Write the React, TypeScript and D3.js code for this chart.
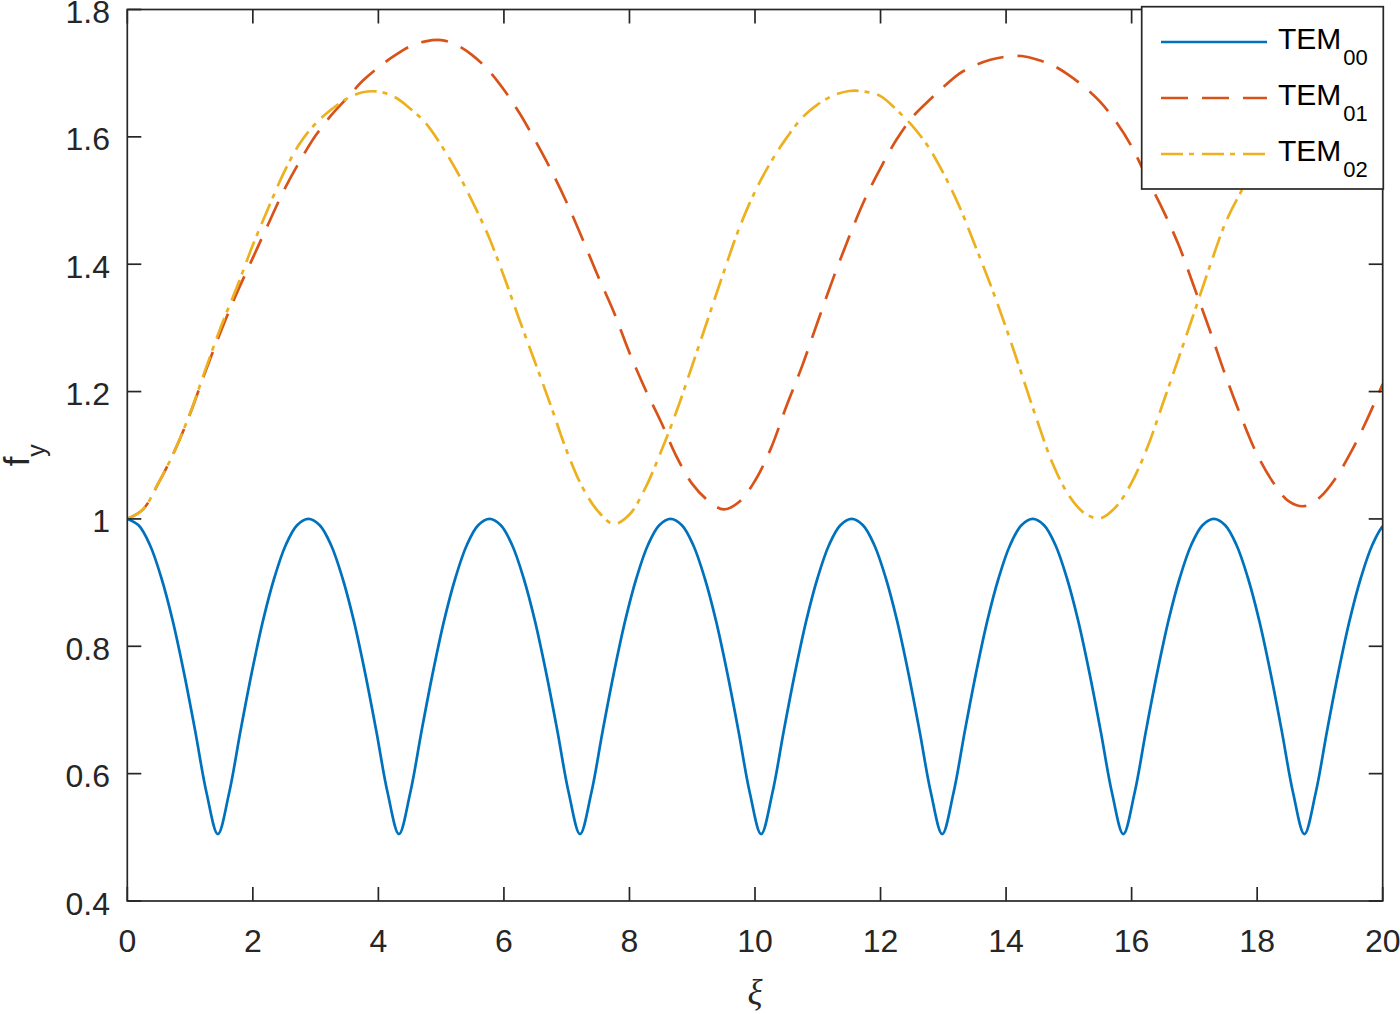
import React from 'react';
import * as d3 from 'd3';

// ---- data ----
// TEM00 sampled every 1/16 of its period (period ≈ 2.885)
const tem00Period = 2.885;
const tem00 = [
  1.000, 0.990, 0.959, 0.908, 0.841, 0.759, 0.667, 0.570, 0.505, 0.570, 0.667, 0.759, 0.841, 0.908, 0.959, 0.990,
  1.000, 0.990, 0.959, 0.908, 0.841, 0.759, 0.667, 0.570, 0.505, 0.570, 0.667, 0.759, 0.841, 0.908, 0.959, 0.990,
  1.000, 0.990, 0.959, 0.908, 0.841, 0.759, 0.667, 0.570, 0.505, 0.570, 0.667, 0.759, 0.841, 0.908, 0.959, 0.990,
  1.000, 0.990, 0.959, 0.908, 0.841, 0.759, 0.667, 0.570, 0.505, 0.570, 0.667, 0.759, 0.841, 0.908, 0.959, 0.990,
  1.000, 0.990, 0.959, 0.908, 0.841, 0.759, 0.667, 0.570, 0.505, 0.570, 0.667, 0.759, 0.841, 0.908, 0.959, 0.990,
  1.000, 0.990, 0.959, 0.908, 0.841, 0.759, 0.667, 0.570, 0.505, 0.570, 0.667, 0.759, 0.841, 0.908, 0.959, 0.990,
  1.000, 0.990, 0.959, 0.908, 0.841, 0.759, 0.667, 0.570, 0.505, 0.570, 0.667, 0.759, 0.841, 0.908, 0.959, 0.990,
  1.000,
];

// TEM01 / TEM02 sampled at xi = 0, 0.25, ..., 20
const xiGrid = d3.range(0, 20.0001, 0.25);
const tem01 = [
  1.000, 1.015, 1.057, 1.106, 1.165, 1.233, 1.297, 1.356, 1.410, 1.464,
  1.517, 1.562, 1.602, 1.634, 1.661, 1.688, 1.709, 1.727, 1.742, 1.750,
  1.752, 1.744, 1.728, 1.705, 1.674, 1.637, 1.594, 1.548, 1.497, 1.440,
  1.381, 1.325, 1.261, 1.204, 1.153, 1.098, 1.055, 1.029, 1.015, 1.027,
  1.060, 1.110, 1.177, 1.240, 1.310, 1.379, 1.443, 1.502, 1.551, 1.595,
  1.630, 1.655, 1.678, 1.699, 1.712, 1.721, 1.726, 1.727, 1.721, 1.712,
  1.697, 1.678, 1.655, 1.624, 1.585, 1.534, 1.485, 1.430, 1.363, 1.295,
  1.224, 1.159, 1.101, 1.058, 1.028, 1.020, 1.034, 1.064, 1.106, 1.156,
  1.212,
];
const tem02 = [
  1.000, 1.015, 1.057, 1.106, 1.166, 1.236, 1.304, 1.365, 1.430, 1.489,
  1.545, 1.590, 1.621, 1.643, 1.660, 1.670, 1.671, 1.663, 1.645, 1.622,
  1.587, 1.546, 1.498, 1.445, 1.381, 1.312, 1.245, 1.177, 1.107, 1.050,
  1.012, 0.992, 1.007, 1.048, 1.105, 1.169, 1.241, 1.314, 1.387, 1.457,
  1.514, 1.560, 1.598, 1.630, 1.651, 1.665, 1.672, 1.671, 1.664, 1.643,
  1.618, 1.586, 1.543, 1.492, 1.431, 1.368, 1.300, 1.227, 1.153, 1.085,
  1.037, 1.009, 1.001, 1.019, 1.057, 1.112, 1.182, 1.253, 1.325, 1.398,
  1.466, 1.515, 1.560, 1.600, 1.632, 1.654, 1.666, 1.671, 1.668, 1.657,
  1.640,
];

const xTicks = [0, 2, 4, 6, 8, 10, 12, 14, 16, 18, 20];
const yTicks = [0.4, 0.6, 0.8, 1, 1.2, 1.4, 1.6, 1.8];
const yTickLabels = ['0.4', '0.6', '0.8', '1', '1.2', '1.4', '1.6', '1.8'];
const legendSubs = ['00', '01', '02'];
const seriesColors = ['#0072BD', '#D95319', '#EDB120'];
const seriesDash = ['none', '27,14', '22,6,5,8'];

const AXIS = '#262626';
const FONT = '"Liberation Sans", Arial, Helvetica, sans-serif';

export default function App() {
  const W = 1400;
  const H = 1014;
  const left = 127.3, right = 1382.7, top = 9.5, bottom = 901;
  const x = d3.scaleLinear().domain([0, 20]).range([left, right]);
  const y = d3.scaleLinear().domain([0.4, 1.8]).range([bottom, top]);

  const line = d3
    .line<[number, number]>()
    .x((d) => x(d[0]))
    .y((d) => y(d[1]))
    .curve(d3.curveCatmullRom.alpha(0.5));

  const series: [number, number][][] = [
    tem00.map((v, i) => [(i * tem00Period) / 16, v] as [number, number]),
    tem01.map((v, i) => [xiGrid[i], v] as [number, number]),
    tem02.map((v, i) => [xiGrid[i], v] as [number, number]),
  ];

  const tickLen = 14;
  const lw = 2.7;

  // legend geometry
  const lgX0 = 1141.7, lgY0 = 6.7, lgX1 = 1383.3, lgY1 = 189;
  const rowY = (i: number) => 42 + 56 * i;

  return (
    <svg
      width={W}
      height={H}
      viewBox={`0 0 ${W} ${H}`}
      style={{ position: 'absolute', left: 0, top: 0, background: '#fff' }}
      fontFamily={FONT}
    >
      <rect x={0} y={0} width={W} height={H} fill="#fff" />
      <defs>
        <clipPath id="plotClip">
          <rect x={left} y={top} width={right - left} height={bottom - top} />
        </clipPath>
      </defs>

      {/* data */}
      <g clipPath="url(#plotClip)">
        {series.map((s, i) => (
          <path
            key={i}
            d={line(s) || ''}
            fill="none"
            stroke={seriesColors[i]}
            strokeWidth={lw}
            strokeDasharray={seriesDash[i]}
            strokeLinejoin="round"
          />
        ))}
      </g>

      {/* axes box */}
      <rect x={left} y={top} width={right - left} height={bottom - top} fill="none" stroke={AXIS} strokeWidth={1.7} />

      {/* x ticks */}
      {xTicks.map((t) => (
        <g key={'xt' + t}>
          <line x1={x(t)} x2={x(t)} y1={bottom} y2={bottom - tickLen} stroke={AXIS} strokeWidth={1.7} />
          <line x1={x(t)} x2={x(t)} y1={top} y2={top + tickLen} stroke={AXIS} strokeWidth={1.7} />
          <text x={x(t)} y={951.5} textAnchor="middle" fontSize={32} fill={AXIS}>
            {t}
          </text>
        </g>
      ))}

      {/* y ticks */}
      {yTicks.map((t, i) => (
        <g key={'yt' + t}>
          <line x1={left} x2={left + tickLen} y1={y(t)} y2={y(t)} stroke={AXIS} strokeWidth={1.7} />
          <line x1={right} x2={right - tickLen} y1={y(t)} y2={y(t)} stroke={AXIS} strokeWidth={1.7} />
          <text x={110} y={y(t) + 13.5} textAnchor="end" fontSize={32} fill={AXIS}>
            {yTickLabels[i]}
          </text>
        </g>
      ))}

      {/* axis labels */}
      <text
        x={(left + right) / 2}
        y={1004}
        textAnchor="middle"
        fontSize={35}
        fontStyle="italic"
        fontFamily='"Liberation Serif", "Times New Roman", serif'
        fill={AXIS}
      >
        ξ
      </text>
      <text transform={`translate(29, ${(top + bottom) / 2}) rotate(-90)`} textAnchor="middle" fontSize={35} fill={AXIS}>
        f
        <tspan fontSize={25} dy={16}>
          y
        </tspan>
      </text>

      {/* legend */}
      <rect x={lgX0} y={lgY0} width={lgX1 - lgX0} height={lgY1 - lgY0} fill="#fff" stroke={AXIS} strokeWidth={1.7} />
      {legendSubs.map((sub, i) => (
        <g key={'lg' + i}>
          <line
            x1={1161}
            x2={1267}
            y1={rowY(i)}
            y2={rowY(i)}
            stroke={seriesColors[i]}
            strokeWidth={lw}
            strokeDasharray={seriesDash[i]}
          />
          <text x={1278} y={rowY(i) + 6.5} fontSize={30} fill="#000">
            TEM
            <tspan fontSize={22} dy={16} dx={2}>
              {sub}
            </tspan>
          </text>
        </g>
      ))}
    </svg>
  );
}
